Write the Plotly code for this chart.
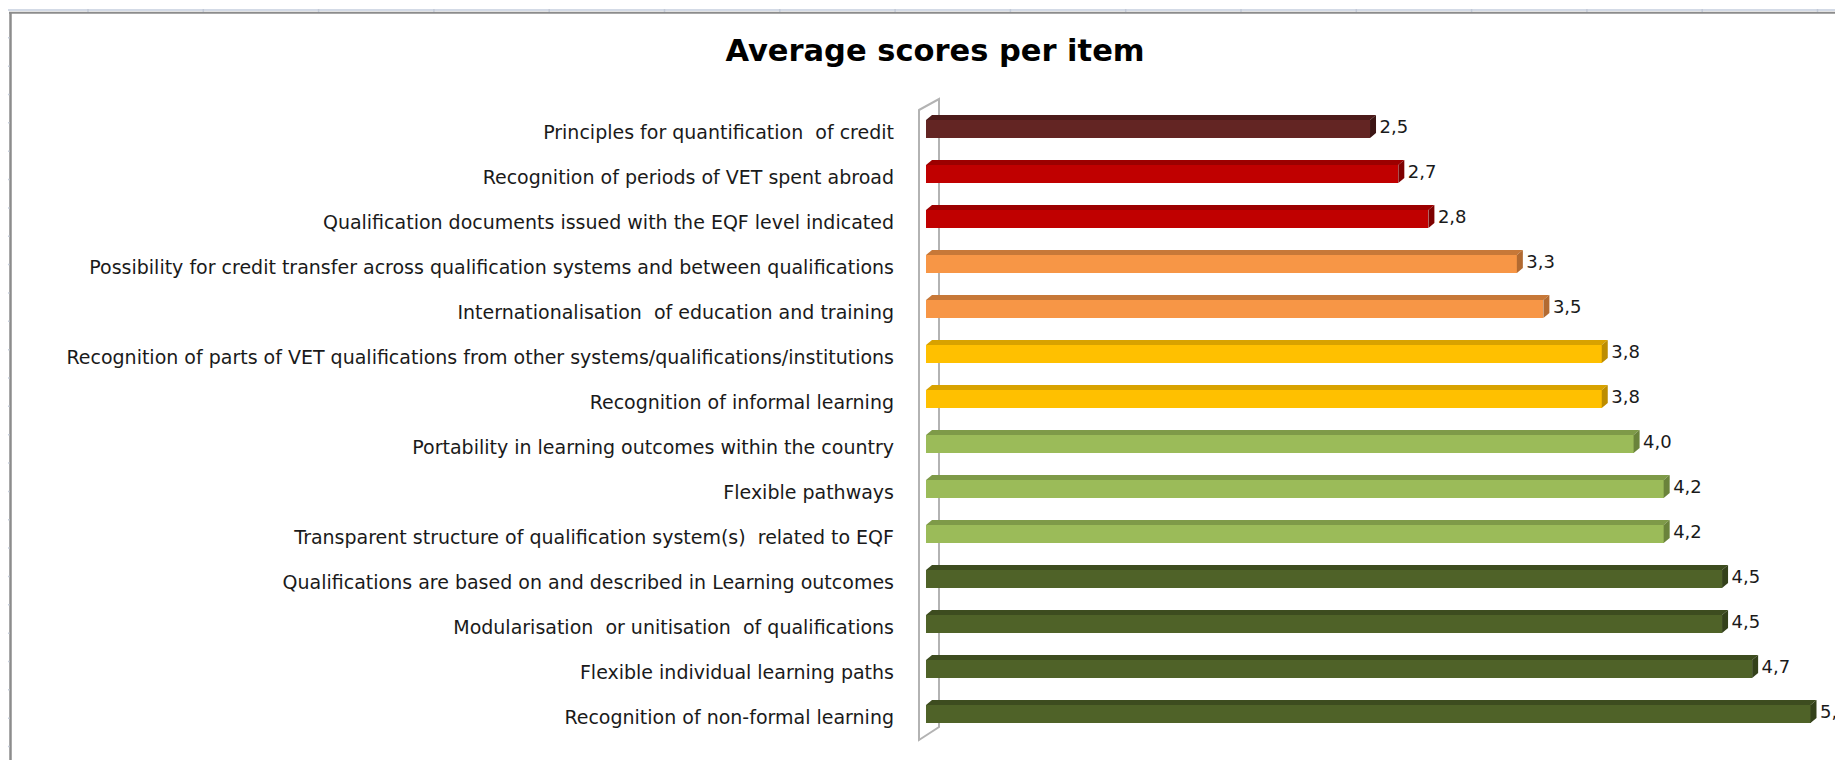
import plotly.graph_objects as go

# ---------------- data (top to bottom as in the chart) ----------------
categories = [
    "Principles for quantification  of credit",
    "Recognition of periods of VET spent abroad",
    "Qualification documents issued with the EQF level indicated",
    "Possibility for credit transfer across qualification systems and between qualifications",
    "Internationalisation  of education and training",
    "Recognition of parts of VET qualifications from other systems/qualifications/institutions",
    "Recognition of informal learning",
    "Portability in learning outcomes within the country",
    "Flexible pathways",
    "Transparent structure of qualification system(s)  related to EQF",
    "Qualifications are based on and described in Learning outcomes",
    "Modularisation  or unitisation  of qualifications",
    "Flexible individual learning paths",
    "Recognition of non-formal learning",
]
scores = [2.51, 2.67, 2.84, 3.34, 3.49, 3.82, 3.82, 4.0, 4.17, 4.17, 4.5, 4.5, 4.67, 5.0]
score_labels = ["2,5", "2,7", "2,8", "3,3", "3,5", "3,8", "3,8", "4,0", "4,2", "4,2",
                "4,5", "4,5", "4,7", "5,0"]
group = ["brown", "red", "red", "orange", "orange", "yellow", "yellow",
         "light", "light", "light", "dark", "dark", "dark", "dark"]

# ---------------- styles ----------------
front = {"brown": "#632523", "red": "#C00000", "orange": "#F79646",
         "yellow": "#FFC000", "light": "#9BBB59", "dark": "#4F6228"}
topc = {"brown": "#4C1B1A", "red": "#9C0000", "orange": "#C77838",
        "yellow": "#D8A200", "light": "#7E9A48", "dark": "#3D4C1F"}
sidec = {"brown": "#3C1514", "red": "#7E0000", "orange": "#B26A31",
         "yellow": "#BD8D00", "light": "#6A833B", "dark": "#34411A"}

OFF = 8                     # page body margin
W, H = 1843 - OFF, 760 - OFF
PXU = 176.9                 # pixels per score unit
ROW = 45.0                  # pixels per category
x0px = 926 - OFF            # score 0
L = 917 - OFF
T = 132 - ROW - OFF         # first category centre at screen y=132
B = 0
xmin = -(x0px - L) / PXU
xmax = (W - x0px) / PXU
ymin = -1.0
ymax = ymin + (H - T - B) / ROW

DX = 6 / PXU          # depth in x
DT = 5 / ROW          # depth in y (top face)
F_OFF, F_W = -0.267, 0.4

pos = list(range(len(categories)))

fig = go.Figure()

# front faces
fig.add_trace(go.Bar(
    y=pos, x=scores, orientation="h",
    offset=F_OFF, width=F_W,
    marker=dict(color=[front[g] for g in group], line=dict(width=0)),
    hoverinfo="skip", showlegend=False,
))

# top and side faces
for i, (v, g) in enumerate(zip(scores, group)):
    yt = i + F_OFF
    yb = i + F_OFF + F_W
    fig.add_trace(go.Scatter(
        x=[0, v, v + DX, DX, 0], y=[yt, yt, yt - DT, yt - DT, yt],
        fill="toself", fillcolor=topc[g], mode="lines", line=dict(width=0),
        hoverinfo="skip", showlegend=False,
    ))
    fig.add_trace(go.Scatter(
        x=[v, v + DX, v + DX, v, v], y=[yt, yt - DT, yb - DT, yb, yt],
        fill="toself", fillcolor=sidec[g], mode="lines", line=dict(width=0),
        hoverinfo="skip", showlegend=False,
    ))

# value labels
fig.add_trace(go.Scatter(
    x=[v + DX + 3.5 / PXU for v in scores], y=[i + F_OFF + F_W / 2 for i in pos],
    mode="text", text=score_labels, textposition="middle right",
    textfont=dict(family="DejaVu Sans", size=18, color="#1a1a1a"),
    cliponaxis=False, hoverinfo="skip", showlegend=False,
))

# ---------------- decorations: 3D wall and sheet frame ----------------
def px2x(px):
    return (px - OFF - x0px) / PXU

def py2y(py):
    return ymin + (py - OFF - T) / ROW

shapes = [dict(
    type="path", xref="x", yref="y", layer="below",
    path=(f"M {px2x(919)},{py2y(110)} L {px2x(939)},{py2y(99)} "
          f"L {px2x(939)},{py2y(727)} L {px2x(919)},{py2y(740)} Z"),
    line=dict(color="#b3b3b3", width=2), fillcolor="rgba(0,0,0,0)",
)]

def pxp(px):
    return (px - OFF - L) / (W - L)

def pyp(py):
    return 1 - (py - OFF - T) / (H - T - B)

shapes.append(dict(type="line", xref="paper", yref="paper",
                   x0=pxp(8), x1=pxp(1843), y0=pyp(10), y1=pyp(10),
                   line=dict(color="#d3dae6", width=2)))
shapes.append(dict(type="line", xref="paper", yref="paper",
                   x0=pxp(9), x1=pxp(1843), y0=pyp(12.8), y1=pyp(12.8),
                   line=dict(color="#8c8c8c", width=2)))
shapes.append(dict(type="line", xref="paper", yref="paper",
                   x0=pxp(10.5), x1=pxp(10.5), y0=pyp(12), y1=pyp(760),
                   line=dict(color="#8c8c8c", width=2.5)))
ry = 37.8
while ry < 760:
    shapes.append(dict(type="line", xref="paper", yref="paper",
                       x0=pxp(8), x1=pxp(9.5), y0=pyp(ry), y1=pyp(ry),
                       line=dict(color="#c9d1de", width=1.5)))
    ry += 28.35
cx = 88
while cx < 1843:
    shapes.append(dict(type="line", xref="paper", yref="paper",
                       x0=pxp(cx), x1=pxp(cx), y0=pyp(9), y1=pyp(12),
                       line=dict(color="#c3cad6", width=1.5)))
    cx += 115.3

fig.update_layout(
    width=W, height=H,
    margin=dict(l=L, r=0, t=T, b=B, pad=0),
    paper_bgcolor="white", plot_bgcolor="white",
    title=dict(text="<b>Average scores per item</b>", x=(935 - OFF) / W, xanchor="center",
               y=1 - (50 - OFF) / H, yanchor="middle",
               font=dict(family="DejaVu Sans", size=30.5, color="#000000")),
    xaxis=dict(range=[xmin, xmax], visible=False, fixedrange=True),
    yaxis=dict(range=[ymax, ymin], tickvals=pos, ticktext=categories,
               showgrid=False, zeroline=False, showline=False, ticks="",
               ticklabelstandoff=22,
               tickfont=dict(family="DejaVu Sans", size=19, color="#1a1a1a"),
               fixedrange=True),
    shapes=shapes,
    bargap=0,
)

fig.write_html("out.html")
